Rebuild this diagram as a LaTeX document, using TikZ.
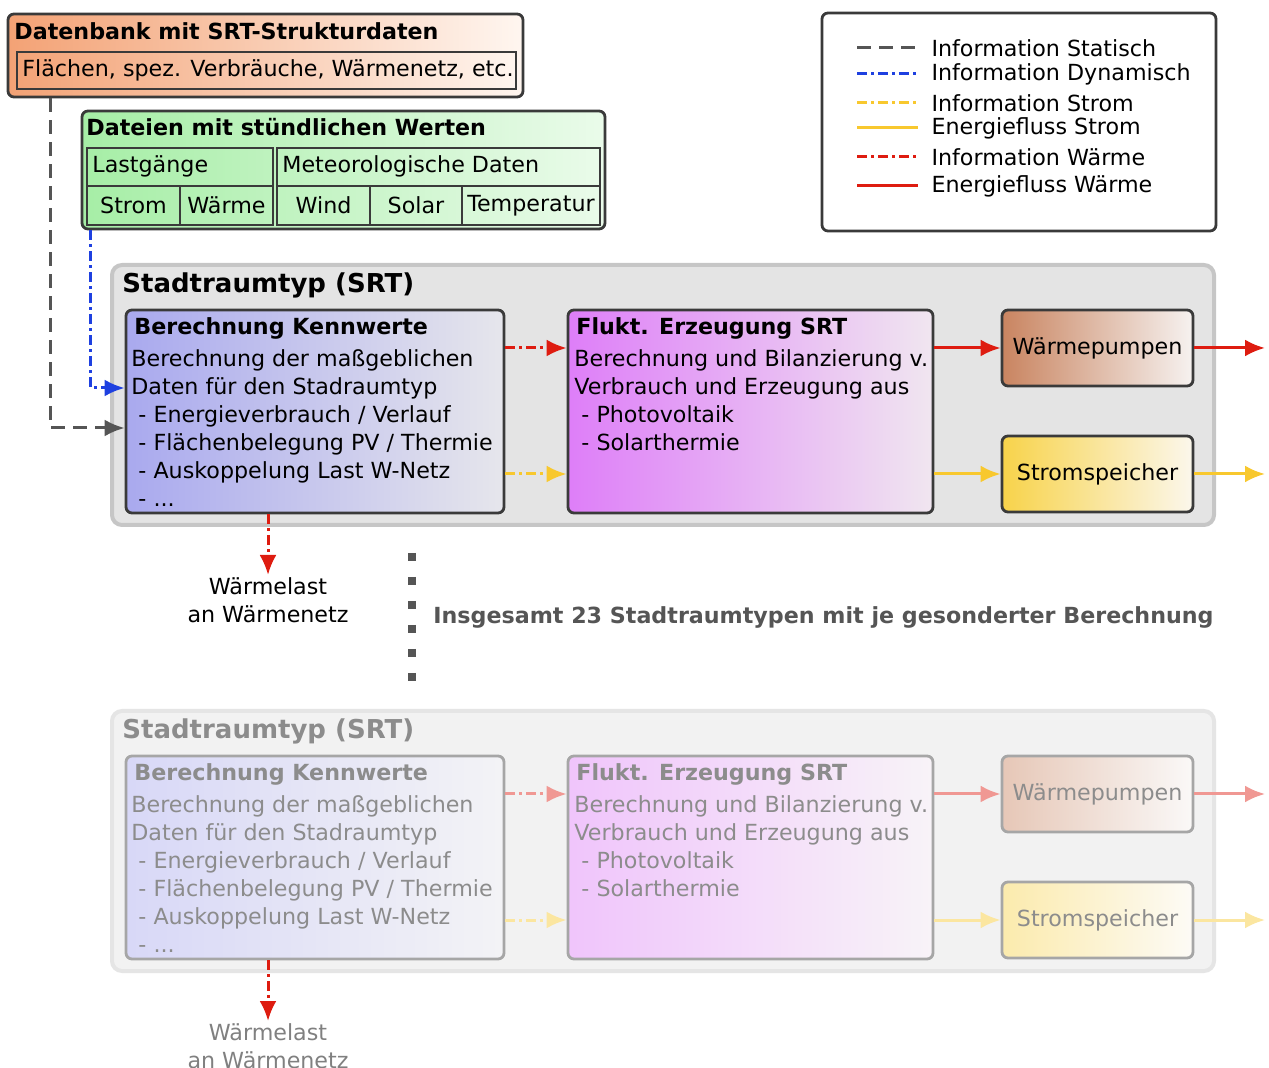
\documentclass[tikz,border=0pt]{standalone}
\usepackage{fontspec}
\setmainfont{DejaVu Sans}
\usepackage{tikz}
\usetikzlibrary{arrows.meta,fit}
\definecolor{rot}{HTML}{DE1C10}
\definecolor{gelb}{HTML}{F8C82E}
\definecolor{blau}{HTML}{1E40E0}
\definecolor{grau}{HTML}{555555}
\definecolor{rand}{HTML}{3A3A3A}
\definecolor{grauhell}{HTML}{E4E4E4}
\definecolor{randhell}{HTML}{C6C6C6}
\definecolor{dblinks}{HTML}{F3A275}
\definecolor{dbrechts}{HTML}{FFF6F0}
\definecolor{dateilinks}{HTML}{A6EEA6}
\definecolor{dateirechts}{HTML}{EAFBEA}
\definecolor{kennlinks}{HTML}{A9A9EE}
\definecolor{kennrechts}{HTML}{E6E6EC}
\definecolor{fluktlinks}{HTML}{DE7EF8}
\definecolor{fluktrechts}{HTML}{F0E6F0}
\definecolor{wplinks}{HTML}{C98460}
\definecolor{wprechts}{HTML}{F6F2F0}
\definecolor{splinks}{HTML}{F8D34A}
\definecolor{sprechts}{HTML}{FBF7EC}
\def\normal{\fontsize{11.1}{14}\selectfont}
\def\gross{\fontsize{13}{16}\selectfont\bfseries}

\begin{document}
\begin{tikzpicture}[x=0.5pt,y=-0.5pt,>={Latex[length=10pt,width=8.5pt]},font=\normal,
    box/.style={draw=rand,line width=1.4pt,rounded corners=3pt,inner sep=0pt},
    gruppe/.style={draw=randhell,line width=2pt,rounded corners=5pt,fill=grauhell,inner sep=0pt},
    cell/.style={draw=rand,line width=0.6pt,inner sep=0pt},
    title/.style={anchor=west,inner sep=0pt,font=\normal\bfseries},
    body/.style={anchor=north west,inner sep=0pt,align=left},
    statisch/.style={grau,line width=1.5pt,dash pattern=on 7pt off 4pt},
    dynamisch/.style={blau,line width=1.5pt,dash pattern=on 5pt off 2pt on 1.5pt off 2pt},
    infostrom/.style={gelb,line width=1.5pt,dash pattern=on 5pt off 2pt on 1.5pt off 2pt},
    strom/.style={gelb,line width=1.5pt},
    infowaerme/.style={rot,line width=1.5pt,dash pattern=on 5pt off 2pt on 1.5pt off 2pt},
    waerme/.style={rot,line width=1.5pt}]
    \useasboundingbox (0,0) rectangle (1269,1068);

    % Datenbank
    \node[box,fit={(8,14) (523,97)},left color=dblinks,right color=dbrechts] (db) {};
    \node[title] at (14,31) {Datenbank mit SRT-Strukturdaten};
    \node[cell,fit={(17,52) (516,89)}] (dbinhalt) {};
    \node[anchor=west,inner sep=0pt] at (22,70) {Flächen, spez. Verbräuche, Wärmenetz, etc.};

    % Dateien
    \node[box,fit={(82,111) (605,229)},left color=dateilinks,right color=dateirechts] (dateien) {};
    \node[title] at (86,127) {Dateien mit stündlichen Werten};
    \node[cell,fit={(87,148) (273,186)}] (lastgaenge) {};
    \node[cell,fit={(277,148) (600,186)}] (meteo) {};
    \node[anchor=west,inner sep=0pt] at (92,166) {Lastgänge};
    \node[anchor=west,inner sep=0pt] at (282,166) {Meteorologische Daten};
    \node[cell,fit={(87,186) (180,225)},label=center:Strom] (strom) {};
    \node[cell,fit={(180,186) (273,225)},label=center:Wärme] (waerme) {};
    \node[cell,fit={(277,186) (370,225)},label=center:Wind] (wind) {};
    \node[cell,fit={(370,186) (462,225)},label=center:Solar] (solar) {};
    \node[cell,fit={(462,186) (600,225)},label=center:Temperatur] (temp) {};

    % Legende
    \node[box,fit={(822,13) (1216,231)},fill=white] (legende) {};
    \foreach \y/\stil/\txt in {48/statisch/Information Statisch,74/dynamisch/Information Dynamisch,
        103/infostrom/Information Strom,128/strom/Energiefluss Strom,
        157/infowaerme/Information Wärme,186/waerme/Energiefluss Wärme}
        \draw[\stil] (857,\y) -- (918,\y) node[anchor=west,inner sep=0pt,black] at (930,\y) {\txt};

    % Stadtraumtypen
    \foreach \dy/\blass/\farbe/\n in {0/0/black/1,446/0.55/black!50/2} {
    \begin{scope}[shift={(0,\dy)}]
        \node[gruppe,fit={(112,265) (1214,525)}] (srt\n) {};
        \node[title,font=\gross] at (122,285) {Stadtraumtyp (SRT)};

        \node[box,fit={(126,310) (504,513)},left color=kennlinks,right color=kennrechts] (kenn\n) {};
        \node[title] at (134,328) {Berechnung Kennwerte};
        \node[body] at (131,349) {Berechnung der maßgeblichen\\Daten für den Stadraumtyp\\
            \ - Energieverbrauch / Verlauf\\\ - Flächenbelegung PV / Thermie\\
            \ - Auskoppelung Last W-Netz\\\ - ...};

        \node[box,fit={(568,310) (933,513)},left color=fluktlinks,right color=fluktrechts] (flukt\n) {};
        \node[title] at (576,328) {Flukt. Erzeugung SRT};
        \node[body] at (574,349) {Berechnung und Bilanzierung v.\\Verbrauch und Erzeugung aus\\
            \ - Photovoltaik\\\ - Solarthermie};

        \node[box,fit={(1002,310) (1193,386)},left color=wplinks,right color=wprechts,label=center:Wärmepumpen] (wp\n) {};
        \node[box,fit={(1002,436) (1193,512)},left color=splinks,right color=sprechts,label=center:Stromspeicher] (speicher\n) {};
        \coordinate (wpaus\n) at (1265,348);
        \coordinate (spaus\n) at (1265,474);

        \draw[->,infowaerme] (kenn\n.east |- wp\n) -- (flukt\n.west |- wp\n);
        \draw[->,waerme] (flukt\n.east |- wp\n) -- (wp\n);
        \draw[->,waerme] (wp\n) -- (wpaus\n);
        \draw[->,infostrom] (kenn\n.east |- speicher\n) -- (flukt\n.west |- speicher\n);
        \draw[->,strom] (flukt\n.east |- speicher\n) -- (speicher\n);
        \draw[->,strom] (speicher\n) -- (spaus\n);

        \fill[white,fill opacity=\blass] (104,256) rectangle (1269,534);

        \node[anchor=north,align=center,inner sep=1pt,text=\farbe] (last\n) at (268,575) {Wärmelast\\an Wärmenetz};
        \draw[->,infowaerme] (kenn\n.south -| last\n) -- (last\n);
    \end{scope}
    }

    % Eingaenge
    \draw[->,statisch] ([xshift=22pt]db.south west) |- ([yshift=-8.25pt]kenn1.west);
    \draw[->,dynamisch] ([xshift=5pt]dateien.south west) |- ([yshift=11.75pt]kenn1.west);

    \draw[grau,line width=4pt,dash pattern=on 4pt off 8pt] (412,553) -- (412,682);
    \node[title,text=grau] (insgesamt) at (433,617) {Insgesamt 23 Stadtraumtypen mit je gesonderter Berechnung};
\end{tikzpicture}
\end{document}
